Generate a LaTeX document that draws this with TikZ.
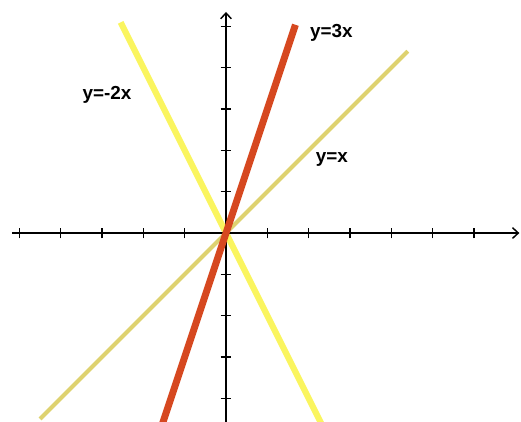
\documentclass[tikz,border=0pt]{standalone}
\usepackage{fontspec}
\setsansfont{Liberation Sans}
\usepackage{xcolor}
\usetikzlibrary{arrows.meta}
\definecolor{graphred}{RGB}{214,72,32}
\definecolor{graphyellow}{RGB}{250,245,95}
\definecolor{graphkhaki}{RGB}{222,210,112}

\begin{document}
\begin{tikzpicture}[
    every node/.style={font=\sffamily\bfseries\fontsize{13}{15}\selectfont, align=center},
    axisline/.style={-{Straight Barb[length=1.4mm, width=2.6mm]}, line width=1pt, draw=black},
    tickmark/.style={line width=1pt, draw=black},
    graphline/.style={line cap=butt}
]
\useasboundingbox (-5.47,-4.55) rectangle (7.14,5.64);
\clip (-5.47,-4.55) rectangle (7.14,5.64);

% end points of the three lines
\coordinate (dblo) at (-2.55,5.10);
\coordinate (dbhi) at (2.40,-4.80);
\coordinate (idlo) at (-4.50,-4.50);
\coordinate (idhi) at (4.40,4.40);
\coordinate (trlo) at (-1.60,-4.80);
\coordinate (trhi) at (1.68,5.04);

% axes
\coordinate (xleft) at (-5.18,0);
\coordinate (xright) at (7.10,0);
\coordinate (ybottom) at (0,-4.80);
\coordinate (ytop) at (0,5.35);

\draw[graphline, draw=graphyellow, line width=4.2pt] (dblo) -- (dbhi);
\draw[graphline, draw=graphkhaki, line width=2.8pt] (idlo) -- (idhi);

\draw[axisline] (xleft) -- (xright);
\draw[axisline] (ybottom) -- (ytop);
\foreach \i in {-5,...,-1,1,2,...,6}
    \draw[tickmark] (\i,-0.13) -- (\i,0.13);
\foreach \j in {-4,...,-1,1,2,...,5}
    \draw[tickmark] (-0.13,\j) -- (0.13,\j);

\draw[graphline, draw=graphred, line width=4.8pt] (trlo) -- (trhi);

\node (lbltr) at (2.55,4.84) {y=3x};
\node (lbldb) at (-2.88,3.34) {y=-2x};
\node (lblid) at (2.56,1.77) {y=x};

\end{tikzpicture}
\end{document}
